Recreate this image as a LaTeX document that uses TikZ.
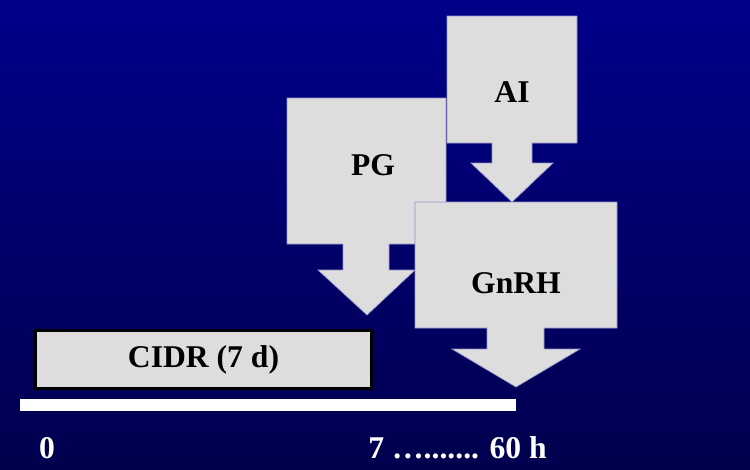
\documentclass[tikz,border=0pt]{standalone}
\usepackage{fontspec}
\setmainfont{Liberation Serif}

\definecolor{slidetop}{RGB}{0,0,138}
\definecolor{slidebot}{RGB}{0,0,78}
\definecolor{boxgray}{RGB}{221,221,221}
\definecolor{boxedge}{RGB}{150,150,200}

\begin{document}
\begin{tikzpicture}[x=0.2mm,y=-0.2mm,
	callout/.style={fill=boxgray,draw=boxedge,line width=0.4pt},
	lbl/.style={inner sep=0pt,anchor=base,font=\fontsize{18}{21}\selectfont\bfseries},
	ticklbl/.style={lbl,text=white}]
\shade[top color=slidetop,bottom color=slidebot] (0,0) rectangle (750,469);
\useasboundingbox (0,0) rectangle (750,469);
% PG
\draw[callout] (287,98) -- (446,98) -- (446,244) -- (389,244) -- (389,270) -- (415,270)
	-- (367,315) -- (318,270) -- (343,270) -- (343,244) -- (287,244) -- cycle;
\node[lbl] (pg) at (373,175) {PG};
% AI
\draw[callout] (447,16) -- (577,16) -- (577,143) -- (532,143) -- (532,163) -- (553,163)
	-- (512,202) -- (471,163) -- (492,163) -- (492,143) -- (447,143) -- cycle;
\node[lbl] (ai) at (512,102) {AI};
% GnRH
\draw[callout] (415,202) -- (617,202) -- (617,328) -- (544,328) -- (544,349) -- (580,349)
	-- (516,387) -- (452,349) -- (487,349) -- (487,328) -- (415,328) -- cycle;
\node[lbl] (gnrh) at (516,293) {GnRH};
% CIDR
\node[draw=black,line width=1.2pt,fill=boxgray,minimum width=67.2mm,minimum height=11.6mm,
	inner sep=0pt,font=\fontsize{18}{21}\selectfont\bfseries] (cidr) at (203.5,359.5) {CIDR (7 d)};
% time axis
\coordinate (t0) at (20,399);
\coordinate (tend) at (516,411);
\fill[white] (t0) rectangle (tend);
\node[ticklbl] (zero) at (47,458) {0};
\node[ticklbl,anchor=base west] (hours) at (368,458) {7 …....... 60 h};
\end{tikzpicture}
\end{document}
